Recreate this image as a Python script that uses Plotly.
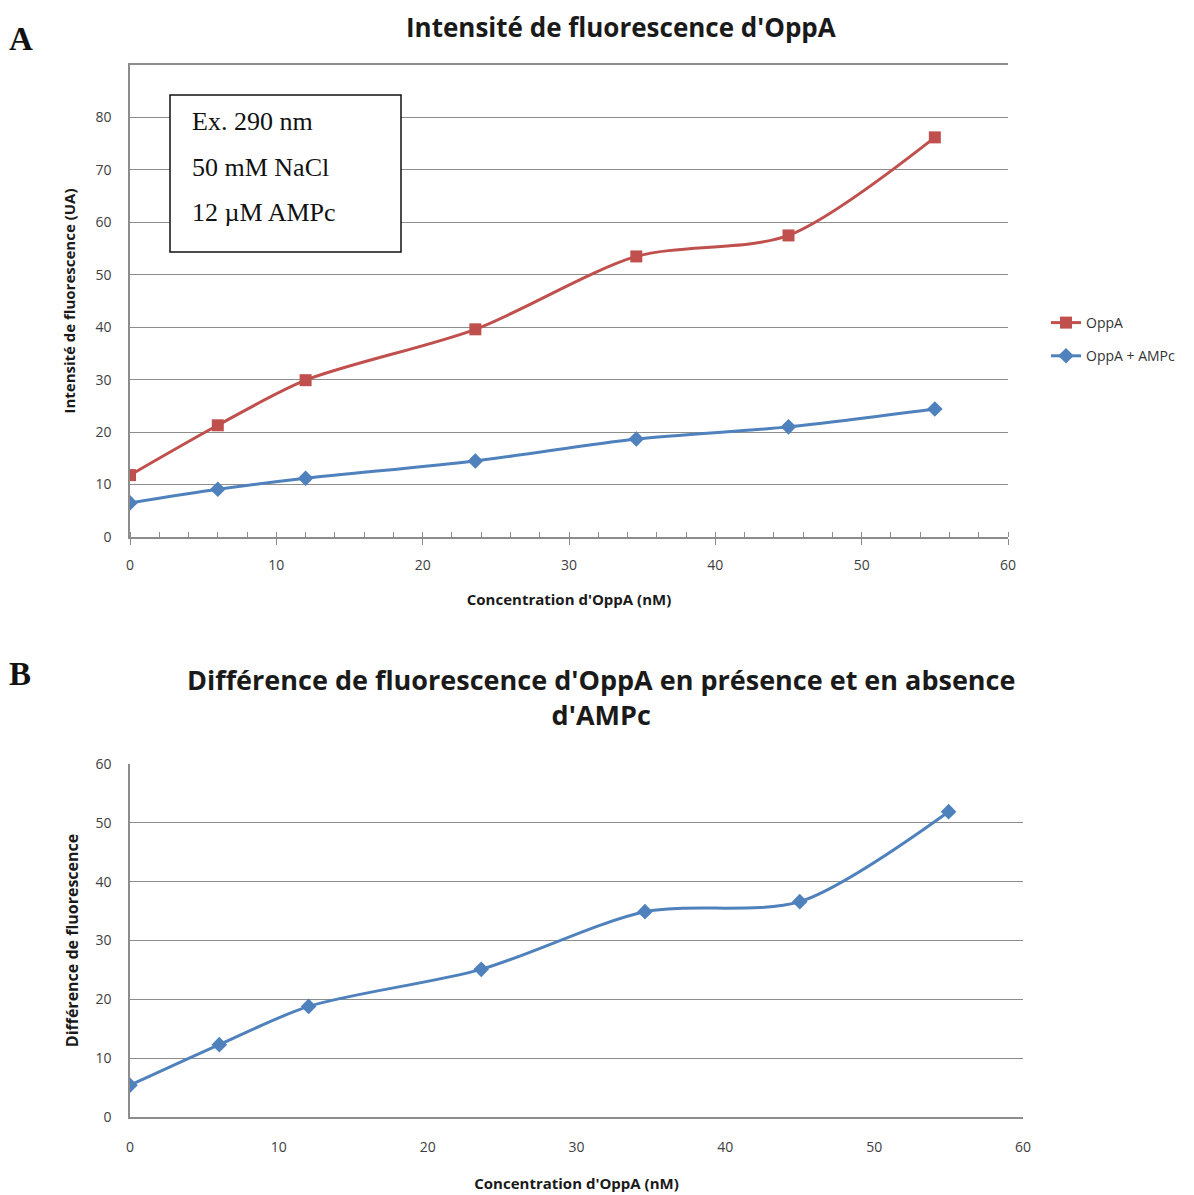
import plotly.graph_objects as go

# Concentration d'OppA (nM)
conc = [0, 6, 12, 23.6, 34.6, 45, 55]
# Panel A: intensité de fluorescence (UA)
oppa = [11.8, 21.3, 29.9, 39.6, 53.5, 57.5, 76.2]
oppa_ampc = [6.5, 9.1, 11.2, 14.5, 18.7, 21.0, 24.4]
# Panel B: différence de fluorescence
diff_fluo = [5.4, 12.3, 18.8, 25.1, 34.9, 36.6, 51.9]

ticks_a = [0, 10, 20, 30, 40, 50, 60, 70, 80]
ticks_b = [0, 10, 20, 30, 40, 50, 60]
xticks = [0, 10, 20, 30, 40, 50, 60]

RED = '#C0504D'
BLUE = '#4F81BD'
GRID = '#8C8C8C'
SANS = 'Open Sans, sans-serif'
SERIF = 'Liberation Serif, Times New Roman, serif'

W, H = 1194, 1195
OFF = 7  # page body margin


def px(v):
    return (v - OFF) / W


def py(v):
    return 1 - (v - OFF) / H


fig = go.Figure()

fig.add_trace(go.Scatter(
    x=conc, y=oppa, name='OppA', legendgroup='a',
    mode='lines+markers', line=dict(color=RED, width=3, shape='spline', smoothing=0.8),
    marker=dict(symbol='square', size=12, color=RED),
    xaxis='x', yaxis='y'
))
fig.add_trace(go.Scatter(
    x=conc, y=oppa_ampc, name='OppA + AMPc', legendgroup='b',
    mode='lines+markers', line=dict(color=BLUE, width=3, shape='spline', smoothing=0.8),
    marker=dict(symbol='diamond', size=12, color=BLUE),
    xaxis='x', yaxis='y'
))
fig.add_trace(go.Scatter(
    x=conc, y=diff_fluo, name='Différence', showlegend=False,
    mode='lines+markers', line=dict(color=BLUE, width=3, shape='spline', smoothing=0.8),
    marker=dict(symbol='diamond', size=12, color=BLUE),
    xaxis='x2', yaxis='y2'
))

tickfont = dict(family=SANS, size=14, color='#404040')
xtitlefont = dict(family=SANS, size=15, color='#1a1a1a', weight='bold')

fig.update_layout(
    width=W, height=H,
    margin=dict(l=0, r=0, t=0, b=0, autoexpand=False),
    paper_bgcolor='white', plot_bgcolor='white',
    showlegend=True,
    legend=dict(x=px(1045), y=py(306), xanchor='left', yanchor='top',
                font=dict(family=SANS, size=14, color='#333333'),
                tracegroupgap=12, bgcolor='rgba(0,0,0,0)'),
    xaxis=dict(domain=[px(129), px(1007)], anchor='y', range=[0, 60], automargin=False,
               tickvals=xticks, tickfont=tickfont, ticklabelstandoff=8,
               showgrid=False, zeroline=False,
               showline=True, linecolor=GRID, linewidth=1.5, mirror=True,
               ticks='outside', ticklen=6, tickcolor=GRID, tickwidth=1,
               minor=dict(dtick=2, ticks='inside', ticklen=5, tickcolor=GRID, showgrid=False),
               title=dict(text="Concentration d'OppA (nM)", font=xtitlefont, standoff=22)),
    yaxis=dict(domain=[py(536), py(64)], anchor='x', range=[0, 90], automargin=False,
               tickvals=ticks_a, tickfont=tickfont, ticklabelstandoff=14,
               showgrid=True, gridcolor=GRID, gridwidth=1, zeroline=False,
               showline=True, linecolor=GRID, linewidth=1.5, ticks='',
               title=dict(text='Intensité de fluorescence (UA)',
                          font=dict(family=SANS, size=15, color='#1a1a1a', weight='bold'),
                          standoff=16)),
    xaxis2=dict(domain=[px(129), px(1022)], anchor='y2', range=[0, 60], automargin=False,
                tickvals=xticks, tickfont=tickfont, ticklabelstandoff=16,
                showgrid=False, zeroline=False,
                showline=True, linecolor=GRID, linewidth=1.5, ticks='',
                title=dict(text="Concentration d'OppA (nM)", font=xtitlefont, standoff=24)),
    yaxis2=dict(domain=[py(1116), py(763)], anchor='x2', range=[0, 60], automargin=False,
                tickvals=ticks_b, tickfont=tickfont, ticklabelstandoff=14,
                showgrid=True, gridcolor=GRID, gridwidth=1, zeroline=False,
                showline=True, linecolor=GRID, linewidth=1.5, ticks='',
                title=dict(text='Différence de fluorescence',
                           font=dict(family=SANS, size=16, color='#1a1a1a', weight='bold'),
                           standoff=13)),
)

# Encadré des conditions expérimentales
fig.add_shape(type='rect', xref='paper', yref='paper',
              x0=px(169), x1=px(400), y0=py(251), y1=py(94),
              line=dict(color='#111111', width=1.5), fillcolor='white', layer='above')
for txt, yy in [('Ex. 290 nm', 121), ('50 mM NaCl', 166), ('12 µM AMPc', 212)]:
    fig.add_annotation(text=txt, xref='paper', yref='paper', x=px(189), y=py(yy),
                       xanchor='left', yanchor='middle', showarrow=False,
                       font=dict(family=SERIF, size=26, color='#111111'))

# Titres des panneaux
fig.add_annotation(text="Intensité de fluorescence d'OppA", xref='paper', yref='paper',
                   x=px(620), y=py(26), xanchor='center', yanchor='middle', showarrow=False,
                   font=dict(family=SANS, size=26, color='#1a1a1a', weight='bold'))
fig.add_annotation(text="Différence de fluorescence d'OppA en présence et en absence<br>d'AMPc",
                   xref='paper', yref='paper', x=px(600), y=py(696), xanchor='center',
                   yanchor='middle', showarrow=False, align='center',
                   font=dict(family=SANS, size=27, color='#1a1a1a', weight='bold'))

# Lettres des panneaux
fig.add_annotation(text='<b>A</b>', xref='paper', yref='paper', x=px(6), y=py(38),
                   xanchor='left', yanchor='middle', showarrow=False,
                   font=dict(family=SERIF, size=33, color='#111111'))
fig.add_annotation(text='<b>B</b>', xref='paper', yref='paper', x=px(6), y=py(673),
                   xanchor='left', yanchor='middle', showarrow=False,
                   font=dict(family=SERIF, size=33, color='#111111'))

fig.write_html("out.html")
